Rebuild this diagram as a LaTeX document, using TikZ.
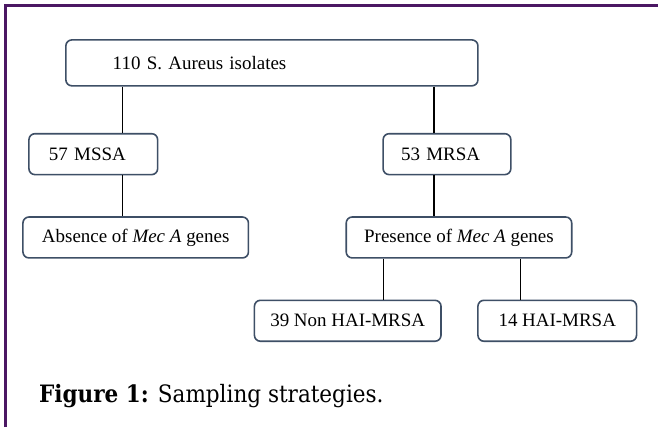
\documentclass[tikz,border=0pt]{standalone}
\usepackage{xcolor}
\usepackage{fontspec}
\setmainfont{Liberation Serif}
\newfontfamily\capfont{DejaVu Serif Condensed}
\usepackage{tikz}
\usetikzlibrary{positioning}

\definecolor{frame}{HTML}{4B1763}
\definecolor{boxline}{HTML}{3E4F66}

\begin{document}
\begin{tikzpicture}[x=1pt, y=-1pt,
    stage/.style={draw=boxline, line width=1.6pt, rounded corners=6pt,
                  minimum height=41pt, inner sep=0pt, align=center,
                  font=\fontsize{19}{22}\selectfont},
    lstage/.style={stage, align=left},
    link/.style={line width=1.2pt, black}
  ]
    % page and frame
    \fill[white] (0,0) rectangle (659,428);
    \draw[frame, line width=3pt] (5.5,428) -- (5.5,5.5) -- (659,5.5);

    \node[lstage, minimum height=46pt, text width=319pt, inner xsep=47pt] (all) at (272.5,63) {110 S. Aureus isolates};
    \node[lstage, text width=89pt, inner xsep=20pt]  (mssa) at (93.5,154.5) {57 MSSA};
    \node[lstage, text width=92pt, inner xsep=18pt]  (mrsa) at (448,154.5)  {53 MRSA};
    \node[stage, minimum width=226pt] (absent)  at (136,238)   {Absence of \textit{Mec A} genes};
    \node[stage, minimum width=226pt] (present) at (460,238)   {Presence of \textit{Mec A} genes};
    \node[stage, minimum width=187pt] (nonhai)  at (348.5,321.5) {39 Non HAI-MRSA};
    \node[stage, minimum width=159pt] (hai)     at (558.5,321.5) {14 HAI-MRSA};

    \node[anchor=west, inner sep=0pt, font=\capfont\fontsize{24}{28}\selectfont] (cap) at (39,397)
      {\textbf{Figure 1:} Sampling strategies.};

    \coordinate (xl) at (123,0);
    \coordinate (xr) at (435,0);
    \coordinate (xa) at (384,0);
    \coordinate (xb) at (522,0);

    \draw[link] (all.south -| xl) -- (mssa.north -| xl);
    \draw[link] (all.south -| xr) -- (mrsa.north -| xr);
    \draw[link] (mssa.south -| xl) -- (absent.north -| xl);
    \draw[link] (mrsa.south -| xr) -- (present.north -| xr);
    \draw[link] (present.south -| xa) -- (nonhai.north -| xa);
    \draw[link] (present.south -| xb) -- (hai.north -| xb);
\end{tikzpicture}
\end{document}
